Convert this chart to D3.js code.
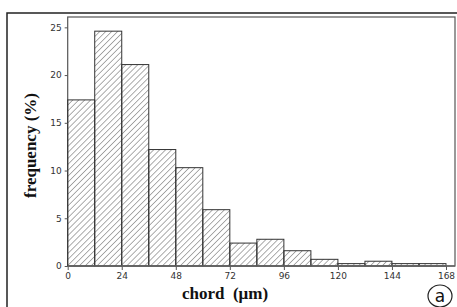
<!DOCTYPE html>
<html>
<head>
<meta charset="utf-8">
<script src="https://cdn.jsdelivr.net/npm/d3@7"></script>
<style>
body { margin: 0; background: #fff; }
.tick text { font-family: "DejaVu Sans", sans-serif; font-size: 9px; fill: #333; }
.axis path, .axis line { stroke: #555; }
</style>
</head>
<body>
<svg id="chart" width="457" height="307"></svg>
<script>
// bin edges (chord, um) and frequency (%) per 12 um bin
var binStart = [0, 12, 24, 36, 48, 60, 72, 84, 96, 108, 120, 132, 144, 156];
var binWidth = 12;
var freq = [17.4, 24.6, 21.1, 12.2, 10.3, 5.9, 2.4, 2.8, 1.6, 0.7, 0.25, 0.5, 0.25, 0.25];
var xTicks = [0, 24, 48, 72, 96, 120, 144, 168];
var yTicks = [0, 5, 10, 15, 20, 25];

var svg = d3.select("#chart");

var margin = {left: 67.7, right: 455, top: 17, bottom: 266};

var x = d3.scaleLinear().domain([0, 172]).range([margin.left, margin.right]);
var y = d3.scaleLinear().domain([0, 26]).range([margin.bottom, margin.top + 0.8]);

// hatch pattern
var defs = svg.append("defs");
defs.append("pattern")
    .attr("id", "hatch")
    .attr("patternUnits", "userSpaceOnUse")
    .attr("width", 4.2)
    .attr("height", 4.2)
    .attr("patternTransform", "rotate(45)")
    .append("line")
    .attr("x1", 0).attr("y1", 0)
    .attr("x2", 0).attr("y2", 4.2)
    .attr("stroke", "#333")
    .attr("stroke-width", 0.8);

// outer frame
svg.append("rect")
    .attr("x", 7).attr("y", 13)
    .attr("width", 470).attr("height", 320)
    .attr("fill", "none")
    .attr("stroke", "#222")
    .attr("stroke-width", 1.5);

// plot frame
svg.append("rect")
    .attr("x", margin.left).attr("y", margin.top)
    .attr("width", margin.right - margin.left)
    .attr("height", margin.bottom - margin.top)
    .attr("fill", "none")
    .attr("stroke", "#555")
    .attr("stroke-width", 1.2);

// bars
svg.selectAll("rect.bar")
    .data(freq)
    .enter()
    .append("rect")
    .attr("class", "bar")
    .attr("x", function(d, i) { return x(binStart[i]); })
    .attr("y", function(d) { return y(d); })
    .attr("width", function(d, i) { return x(binStart[i] + binWidth) - x(binStart[i]); })
    .attr("height", function(d) { return y(0) - y(d); })
    .attr("fill", "url(#hatch)")
    .attr("stroke", "#333")
    .attr("stroke-width", 1);

//Axes
var xAxis = d3.axisBottom(x).tickValues(xTicks).tickSize(4).tickPadding(3);
var yAxis = d3.axisLeft(y).tickValues(yTicks).tickSize(3).tickPadding(3);

svg.append("g")
    .attr("class", "x axis")
    .attr("transform", "translate(0," + margin.bottom + ")")
    .call(xAxis)
    .select(".domain").remove();

svg.append("g")
    .attr("class", "y axis")
    .attr("transform", "translate(" + margin.left + ",0)")
    .call(yAxis)
    .select(".domain").remove();

// axis base line
svg.append("line")
    .attr("x1", margin.left).attr("x2", margin.right)
    .attr("y1", margin.bottom).attr("y2", margin.bottom)
    .attr("stroke", "#666").attr("stroke-width", 1.5);

//Labels
svg.append("text")
    .attr("x", 225)
    .attr("y", 299)
    .attr("text-anchor", "middle")
    .attr("font-family", "'Liberation Serif', 'DejaVu Serif', serif")
    .attr("font-weight", "bold")
    .attr("font-size", "17px")
    .attr("fill", "#111")
    .attr("xml:space", "preserve")
    .text("chord  (\u03bcm)");

svg.append("text")
    .attr("transform", "translate(36," + ((margin.top + margin.bottom) / 2 + 4) + ") rotate(-90)")
    .attr("text-anchor", "middle")
    .attr("font-family", "'Liberation Serif', 'DejaVu Serif', serif")
    .attr("font-weight", "bold")
    .attr("font-size", "17px")
    .attr("fill", "#111")
    .text("frequency (%)");

// panel letter
svg.append("ellipse")
    .attr("cx", 440).attr("cy", 296)
    .attr("rx", 12).attr("ry", 11)
    .attr("fill", "none")
    .attr("stroke", "#222")
    .attr("stroke-width", 1.2);

svg.append("text")
    .attr("x", 440).attr("y", 302)
    .attr("text-anchor", "middle")
    .attr("font-family", "'DejaVu Sans', sans-serif")
    .attr("font-size", "17px")
    .attr("fill", "#111")
    .text("a");
</script>
</body>
</html>
